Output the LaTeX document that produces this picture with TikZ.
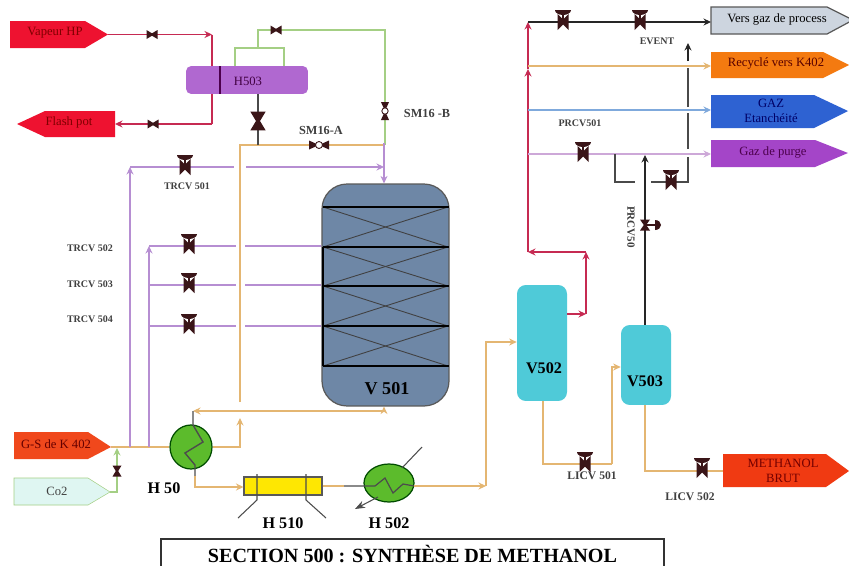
\documentclass[tikz,border=0pt]{standalone}
\usepackage{fontspec}
\setmainfont{Liberation Serif}
\usepackage{xcolor}
\definecolor{valvedark}{HTML}{3A1518}
\definecolor{linered}{HTML}{C62A52}
\definecolor{linegreen}{HTML}{A4CF84}
\definecolor{lineorange}{HTML}{E4B672}
\definecolor{linepurple}{HTML}{B68ED2}
\definecolor{linelilac}{HTML}{CDA8D8}
\definecolor{lineblue}{HTML}{7FA9DC}
\definecolor{linegray}{HTML}{4A4A4A}
\definecolor{reactor}{HTML}{6E87A6}
\definecolor{drumcyan}{HTML}{4FCAD8}
\definecolor{exchgreen}{HTML}{5CBB2C}
\definecolor{h503fill}{HTML}{B068D0}
\definecolor{steamred}{HTML}{EE1230}
\definecolor{feedred}{HTML}{F0481C}
\definecolor{brutred}{HTML}{F03A12}
\definecolor{co2fill}{HTML}{DFF6F2}
\definecolor{processfill}{HTML}{CDD5DF}
\definecolor{recyclefill}{HTML}{F47A10}
\definecolor{gazfill}{HTML}{2E62D2}
\definecolor{purgefill}{HTML}{A445C8}
\usetikzlibrary{arrows.meta, calc, shapes.geometric}

\begin{document}
\begin{tikzpicture}[
  x=0.02cm, y=-0.02cm,
  font=\fontsize{7.2}{8.2}\selectfont,
  pipe/.style={line width=0.6pt},
  pipered/.style={pipe, linered, line width=0.8pt},
  pipegreen/.style={pipe, linegreen},
  pipeorange/.style={pipe, lineorange},
  pipepurple/.style={pipe, linepurple},
  pipelilac/.style={pipe, linelilac},
  pipeblue/.style={pipe, lineblue},
  pipeblack/.style={pipe, black!85},
  pipegray/.style={pipe, linegray},
  tip/.style={-{Stealth[length=1.5mm,width=1.4mm]}},
  tag/.style={font=\bfseries\fontsize{5.7}{6.5}\selectfont, text=black!75, inner sep=0pt},
  unit/.style={font=\bfseries\fontsize{9.2}{10}\selectfont, inner sep=0pt},
  stream/.style={line width=0.3pt},
  streamtext/.style={align=center, inner sep=0pt},
  drum/.style={fill=drumcyan, rounded corners=5pt, minimum width=1cm},
  exchanger/.style={ellipse, draw=black!70!green, line width=0.7pt, fill=exchgreen, inner sep=0pt},
  valve/.pic={
    \fill[valvedark] (-5.5,-4.5) -- (0,-1.2) -- (5.5,-4.5) -- (5.5,4.5) -- (0,1.2) -- (-5.5,4.5) -- cycle;
  },
  ctrlvalve/.pic={
    \fill[valvedark] (-5.5,-8) -- (0,-2.5) -- (5.5,-8) -- (5.5,8) -- (0,2.5) -- (-5.5,8) -- cycle;
    \draw[valvedark, line width=0.8pt] (0,-11) -- (0,0);
    \fill[valvedark] (-8,-12) arc[start angle=180, end angle=0, x radius=8, y radius=5] -- cycle;
  },
  bodyvalve/.pic={
    \fill[valvedark] (-10,-4.5) -- (10,4.5) -- (10,-4.5) -- (-10,4.5) -- cycle;
    \draw[valvedark, fill=white, line width=0.5pt] (0,0) circle[radius=3.5];
  },
  sidevalve/.pic={
    \fill[valvedark] (-5,-5.5) -- (-1.2,0) -- (-5,5.5) -- (5,5.5) -- (1.2,0) -- (5,-5.5) -- cycle;
    \draw[valvedark, line width=0.8pt] (0,0) -- (10,0);
    \fill[valvedark] (10,-5) arc[start angle=-90, end angle=90, x radius=6, y radius=5] -- cycle;
  }
]
  \clip (0,0) rectangle (849,565);
  \fill[white] (0,0) rectangle (849,565);

  % streams on the left
  \fill[steamred] (10,21) -- (85,21) -- (108,34.5) -- (85,48) -- (10,48) -- cycle;
  \node[streamtext, text=red!50!black] (vapeur) at (55,33) {Vapeur HP};
  \coordinate (vapeurtip) at (108,34.5);
  \fill[steamred] (17,124) -- (45,111) -- (115,111) -- (115,137) -- (45,137) -- cycle;
  \node[streamtext, text=red!50!black] (flash) at (69,122) {Flash pot};
  \coordinate (flashend) at (115,124);
  \fill[feedred] (14,432) -- (88,432) -- (111,447) -- (88,459) -- (14,459) -- cycle;
  \node[streamtext, text=red!40!black] (gs) at (56,444) {G-S de K 402};
  \coordinate (gstip) at (111,447);
  \draw[stream, fill=co2fill, draw=linegreen] (14,478) -- (88,478) -- (110,492) -- (88,505) -- (14,505) -- cycle;
  \node[streamtext, text=black!75] (co2) at (57,491) {Co2};
  \coordinate (co2tip) at (110,492);

  % streams on the right
  \draw[stream, fill=processfill, draw=black!65, line width=0.7pt] (711,7) -- (827,7) -- (853,20) -- (827,34) -- (711,34) -- cycle;
  \node[streamtext] (process) at (777,19) {Vers gaz de process};
  \coordinate (processin) at (711,22);
  \fill[recyclefill] (711,52) -- (823,52) -- (849,65) -- (823,78) -- (711,78) -- cycle;
  \node[streamtext, text=red!35!black] (recycle) at (776,63) {Recyclé vers K402};
  \coordinate (recyclein) at (711,66);
  \fill[gazfill] (711,95) -- (814,95) -- (848,111) -- (814,128) -- (711,128) -- cycle;
  \node[streamtext, text=blue!40!black] (gaz) at (771,111) {GAZ\\Etanchéité};
  \coordinate (gazin) at (711,110);
  \fill[purgefill] (711,140) -- (815,140) -- (848,153) -- (815,167) -- (711,167) -- cycle;
  \node[streamtext, text=violet!60!black] (purge) at (773,152) {Gaz de purge};
  \coordinate (purgein) at (711,154);
  \fill[brutred] (723,454) -- (826,454) -- (849,471) -- (826,487) -- (723,487) -- cycle;
  \node[streamtext, text=red!45!black] (methanol) at (783,471) {METHANOL\\BRUT};
  \coordinate (brutin) at (723,471);

  % equipment
  \node[fill=h503fill, rounded corners=3pt, minimum width=2.44cm, minimum height=0.56cm] (h503) at (247,80) {};
  \node[inner sep=0pt, text=violet!50!black] (h503label) at (248,81) {H503};
  \draw[violet!60!black, line width=0.8pt] (220,66) -- (220,94);
  \node[fill=reactor, draw=black!65, line width=0.7pt, rounded corners=0.5cm, minimum width=2.54cm, minimum height=4.44cm] (v501) at (385.5,295) {};
  \node[drum, minimum height=2.32cm] (v502) at (542,343) {};
  \node[drum, minimum height=1.6cm] (v503) at (646,365) {};
  \node[fill=yellow!90!orange, draw=black!65, line width=0.6pt, minimum width=1.56cm, minimum height=0.36cm] (h510) at (283,486) {};
  \node[exchanger, minimum width=0.84cm, minimum height=0.88cm] (h50) at (191,447) {};
  \node[exchanger, minimum width=1cm, minimum height=0.76cm] (h502) at (389,483) {};

  % catalyst beds
  \foreach \ya/\yb in {207/247, 247/286, 286/326, 326/366} {
    \draw[black!75, line width=0.5pt] (323,\ya) -- (448,\yb);
    \draw[black!75, line width=0.5pt] (323,\yb) -- (448,\ya);
  }
  \foreach \yb in {207, 247, 286, 326, 366}
    \draw[black, line width=1.3pt] (323,\yb) -- (449,\yb);
  \draw[black, line width=0.9pt] (323,247) -- (323,366);

  % steam around H503
  \coordinate (steamin) at (212,34.5);
  \coordinate (steamout) at (212,124);
  \draw[pipered, tip] (vapeurtip) -- (steamin);
  \draw[pipered] (steamin) -- (steamin |- h503.north);
  \draw[pipered] (steamout |- h503.south) -- (steamout);
  \draw[pipered, tip] (steamout) -- (flashend);

  % green loop
  \coordinate (loopa) at (235,48);
  \coordinate (loopb) at (284,48);
  \coordinate (loopc) at (258,48);
  \coordinate (loopd) at (258,30);
  \coordinate (loope) at (385,30);
  \coordinate (loopf) at (385,145);
  \draw[pipegreen] (loopa |- h503.north) -- (loopa) -- (loopb) -- (loopb |- h503.north);
  \draw[pipegreen] (loopc) -- (loopd) -- (loope) -- (loopf);

  % orange feed
  \coordinate (feedtop) at (240,145);
  \coordinate (feedlow) at (240,402);
  \coordinate (quench) at (240,418);
  \coordinate (h50out) at (240,447);
  \coordinate (hotin) at (193,411);
  \coordinate (v501in) at (384,411);
  \coordinate (bodyjoin) at (258,145);
  \draw[pipeorange] (gstip) -- (h50.west);
  \draw[pipeorange, tip] (h50.east) -- (h50out) -- (quench);
  \draw[pipeorange] (feedlow) -- (feedtop) -- (loopf);
  \draw[pipeorange, tip] (v501in) -- (hotin);
  \draw[pipeorange, tip] (v501in) -- (v501in |- v501.south);
  \draw[pipegray, line width=1.3pt] (bodyjoin) -- (bodyjoin |- h503.south);

  % purple quench lines
  \coordinate (purpA) at (130,447);
  \coordinate (purpB) at (130,167);
  \coordinate (purpC) at (149,447);
  \coordinate (purpD) at (149,246);
  \coordinate (purpE) at (384,167);
  \draw[pipepurple, tip] (purpA) -- (purpB);
  \draw[pipepurple] (purpB) -- (234,167);
  \draw[pipepurple, tip] (246,167) -- (purpE);
  \draw[pipepurple, tip] (384,143) -- (v501.north -| 384,0);
  \draw[pipepurple, tip] (purpC) -- (purpD);
  \foreach \yq in {246, 285, 326} {
    \draw[pipepurple] (149,\yq) -- (236,\yq);
    \draw[pipepurple] (245,\yq) -- (v501.west |- 0,\yq);
  }

  % H50 coil
  \draw[black!70, line width=0.8pt] (hotin) -- (193,425) -- (203,442) -- (185,453) -- (195,465) -- (195,476);
  \coordinate (coldout) at (195,487);
  \draw[pipeorange, tip] (195,476) -- (coldout) -- (h510.west |- coldout);

  % H510 tube ends
  \draw[black!70, line width=0.6pt] (257,474) -- (257,500) -- (238,518);
  \draw[black!70, line width=0.6pt] (306,474) -- (306,500) -- (326,518);

  % H502 cooler
  \coordinate (cwin) at (344,486);
  \coordinate (cwout) at (414,486);
  \coordinate (cwa) at (402,468);
  \coordinate (cwb) at (422,447);
  \coordinate (cwc) at (378,497);
  \coordinate (cwd) at (355,509);
  \draw[pipeorange] (h510.east) -- (cwin);
  \draw[black!70, line width=0.7pt] (cwin) -- (375,486) -- (385,478) -- (393,493) -- (403,484) -- (cwout);
  \draw[black!70, line width=0.6pt] (cwa) -- (cwb);
  \draw[black!70, line width=0.6pt, -{Stealth[length=2mm]}] (cwc) -- (cwd);

  % to the drums
  \coordinate (vapa) at (486,486);
  \coordinate (vapb) at (486,342);
  \draw[pipeorange, tip] (cwout) -- (vapa);
  \draw[pipeorange, tip] (vapa) -- (vapb) -- (v502.west |- vapb);
  \coordinate (gasa) at (586,314);
  \coordinate (gasb) at (586,252);
  \coordinate (gasc) at (528,252);
  \coordinate (gasd) at (528,22);
  \coordinate (gase) at (528,69);
  \draw[pipered, tip] (v502.east |- gasa) -- (gasa);
  \draw[pipered, tip] (gasa) -- (gasb);
  \draw[pipered, tip] (gasb) -- (gasc);
  \draw[pipered, tip] (gasc) -- (gase);
  \draw[pipered, tip] (gase) -- (gasd);
  \coordinate (lia) at (543,464);
  \coordinate (lib) at (612,464);
  \coordinate (lic) at (612,367);
  \draw[pipeorange] (v502.south -| lia) -- (lia) -- (lib);
  \draw[pipeorange, tip] (lib) -- (lic) -- (v503.west |- lic);
  \coordinate (lid) at (645,471);
  \draw[pipeorange] (v503.south -| lid) -- (lid) -- (brutin);

  % headers to the streams
  \draw[pipeblack, tip] (gasd) -- (processin);
  \draw[pipeorange, tip] (528,66) -- (recyclein);
  \draw[pipeblue, tip] (528,110) -- (gazin);
  \draw[pipelilac, tip] (528,154) -- (purgein);

  % purge control line
  \coordinate (ctla) at (615,154);
  \coordinate (ctlb) at (615,182);
  \coordinate (ctlc) at (635,182);
  \coordinate (ctld) at (651,182);
  \coordinate (ctle) at (688,182);
  \draw[pipegray] (ctla) -- (ctlb) -- (ctlc);
  \draw[pipegray] (ctld) -- (ctle) -- (688,157);
  \draw[pipegray] (688,149) -- (688,113);
  \draw[pipegray] (688,107) -- (688,68);
  \draw[pipeblack, tip] (688,61) -- (688,43);
  \draw[pipeblack, tip] (v503.north -| 645,0) -- (645,155);

  % CO2 makeup
  \coordinate (co2a) at (117,492);
  \coordinate (co2b) at (117,448);
  \draw[pipegreen, tip] (co2tip) -- (co2a) -- (co2b);

  % valves
  \pic at (152,34.5) {valve};
  \pic at (153,124) {valve};
  \pic at (276,30) {valve};
  \pic[rotate=90, scale=1.7] at (258,121) {valve};
  \pic[rotate=90] at (117,471) {valve};
  \pic at (319,145) {bodyvalve};
  \pic[rotate=90, scale=0.9] at (385,111) {bodyvalve};
  \pic at (185,167) {ctrlvalve};
  \pic at (189,246) {ctrlvalve};
  \pic at (189,285) {ctrlvalve};
  \pic at (189,326) {ctrlvalve};
  \pic at (563,22) {ctrlvalve};
  \pic at (640,22) {ctrlvalve};
  \pic at (583,154) {ctrlvalve};
  \pic at (671,182) {ctrlvalve};
  \pic at (585,464) {ctrlvalve};
  \pic at (702,470) {ctrlvalve};
  \pic at (645,225) {sidevalve};

  % labels
  \node[tag] (sma) at (321,130) {\fontsize{7}{8}\selectfont SM16-A};
  \node[tag] (smb) at (427,113) {\fontsize{7}{8}\selectfont SM16 -B};
  \node[tag] (trcva) at (187,186) {TRCV 501};
  \node[tag] (trcvb) at (90,248) {TRCV 502};
  \node[tag] (trcvc) at (90,284) {TRCV 503};
  \node[tag] (trcvd) at (90,319) {TRCV 504};
  \node[tag] (event) at (657,41) {EVENT};
  \node[tag] (prcva) at (580,123) {PRCV501};
  \node[tag, rotate=-90] (prcvb) at (631,227) {\fontsize{6.3}{7}\selectfont PRCV50};
  \node[tag] (licva) at (592,476) {\fontsize{6.6}{7}\selectfont LICV 501};
  \node[tag] (licvb) at (690,497) {\fontsize{6.6}{7}\selectfont LICV 502};
  \node[unit, font=\bfseries\fontsize{10.3}{11}\selectfont] (v501label) at (387,389) {V 501};
  \node[unit] (v502label) at (544,368) {V502};
  \node[unit] (v503label) at (645,381) {V503};
  \node[unit] (h50label) at (164,488) {H 50};
  \node[unit] (h510label) at (283,523) {H 510};
  \node[unit] (h502label) at (389,523) {H 502};
  \node[draw=black!80, line width=0.7pt, minimum width=10.06cm, minimum height=0.6cm, font=\bfseries\fontsize{11.45}{13}\selectfont] (title) at (412.5,554) {SECTION 500 : SYNTHÈSE DE METHANOL};
\end{tikzpicture}
\end{document}
